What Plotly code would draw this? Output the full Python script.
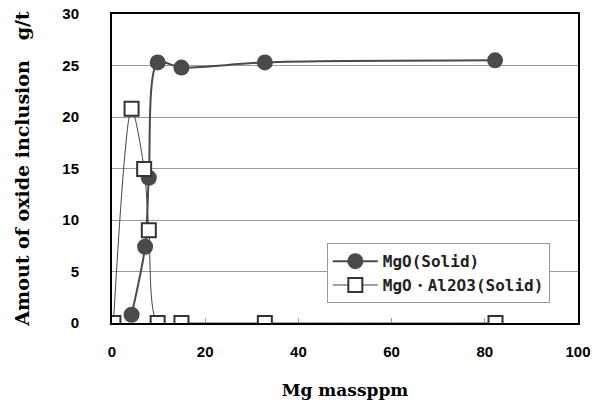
import plotly.graph_objects as go

mgo_x = [4.2, 7.1, 7.9, 9.8, 14.9, 32.8, 82.2]
mgo_y = [0.8, 7.4, 14.1, 25.3, 24.8, 25.3, 25.5]
spinel_x = [0.3, 4.2, 6.9, 7.9, 9.8, 14.9, 32.8, 82.3]
spinel_y = [0.0, 20.8, 14.95, 9.0, 0.0, 0.0, 0.0, 0.0]
x_ticks = [0, 20, 40, 60, 80, 100]
y_ticks = [0, 5, 10, 15, 20, 25, 30]

fig = go.Figure()
fig.add_trace(go.Scatter(
    x=mgo_x, y=mgo_y, name="MgO(Solid)", mode="lines+markers",
    line=dict(color="#4a4a4a", width=2, shape="spline", smoothing=0.8),
    marker=dict(symbol="circle", size=16, color="#4a4a4a", line=dict(width=0)),
))
fig.add_trace(go.Scatter(
    x=spinel_x, y=spinel_y, name="MgO・Al2O3(Solid)", mode="lines+markers",
    line=dict(color="#444444", width=1, shape="spline", smoothing=0.8),
    marker=dict(symbol="square", size=14, color="white", line=dict(width=2, color="#333333")),
))

fig.update_layout(
    width=603, height=400,
    margin=dict(l=112, r=25, t=14, b=77),
    paper_bgcolor="white", plot_bgcolor="white",
    font=dict(family="Liberation Sans, Arial", color="black"),
    showlegend=True,
    legend=dict(
        x=0.461, y=0.258, xanchor="left", yanchor="top",
        bgcolor="white", bordercolor="#999999", borderwidth=1,
        font=dict(family="DejaVu Sans Mono", size=16, color="#222222", weight="bold"),
        tracegroupgap=0, itemwidth=45,
    ),
)
fig.update_xaxes(
    range=[0, 100], tickvals=x_ticks, ticktext=[str(v) for v in x_ticks],
    showline=True, linecolor="black", linewidth=2, mirror=True,
    showgrid=False, zeroline=False, automargin=False,
    ticks="inside", ticklen=5, tickcolor="#999999", tickwidth=1,
    tickfont=dict(size=15, family="Liberation Sans, Arial", weight="bold"),
    ticklabelstandoff=14,
    title=dict(text="Mg massppm", font=dict(family="DejaVu Serif", size=17, weight="bold"), standoff=25),
)
fig.update_yaxes(
    range=[0, 30], tickvals=y_ticks, ticktext=[str(v) for v in y_ticks],
    showline=True, linecolor="black", linewidth=2, mirror=True,
    showgrid=True, gridcolor="#9a9a9a", gridwidth=1, zeroline=False, automargin=False,
    ticks="",
    tickfont=dict(size=15, family="Liberation Sans, Arial", weight="bold"),
    ticklabelstandoff=28,
    title=dict(text="Amout of oxide inclusion   g/t", font=dict(family="DejaVu Serif", size=19, weight="bold"), standoff=28),
)

fig.write_html("out.html")
